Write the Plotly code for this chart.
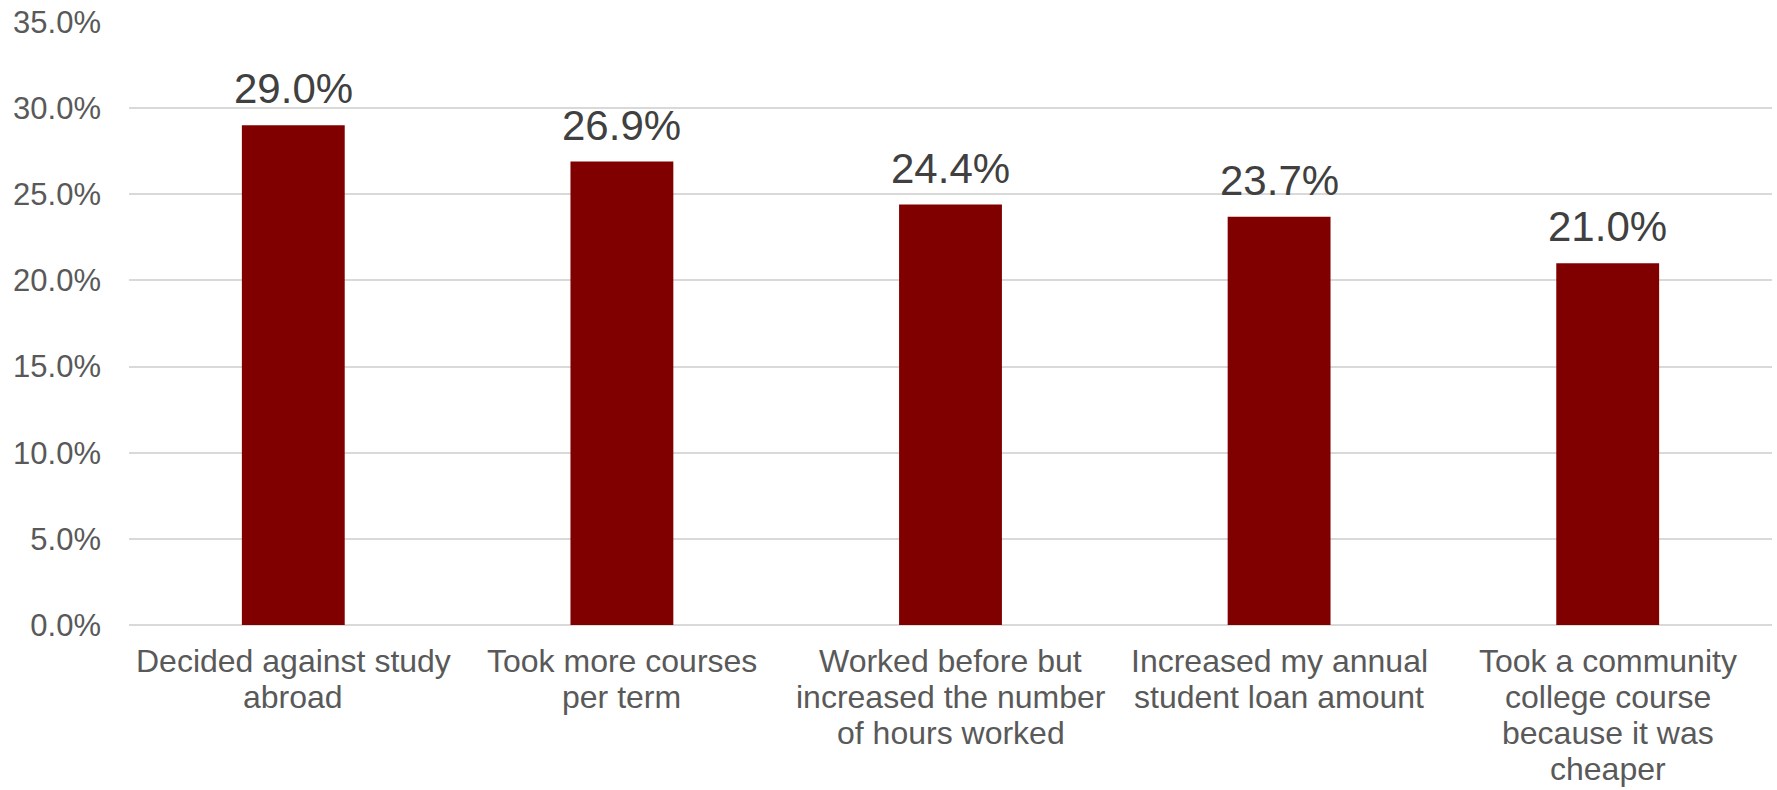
import plotly.graph_objects as go

# Survey responses: share of students reporting each action
categories = [
    "Decided against study<br>abroad",
    "Took more courses<br>per term",
    "Worked before but<br>increased the number<br>of hours worked",
    "Increased my annual<br>student loan amount",
    "Took a community<br>college course<br>because it was<br>cheaper",
]
values = [29.0, 26.9, 24.4, 23.7, 21.0]
y_ticks = [0, 5, 10, 15, 20, 25, 30, 35]

FONT = "Liberation Sans, Arial, sans-serif"
BAR_COLOR = "#800000"
GRID_COLOR = "#d9d9d9"

fig = go.Figure(
    go.Bar(
        x=list(range(len(categories))),
        y=values,
        marker=dict(color=BAR_COLOR, line=dict(width=0)),
        hoverinfo="skip",
    )
)

annotations = []
# value labels above each bar
for i, v in enumerate(values):
    annotations.append(dict(
        x=i, y=v, xref="x", yref="y",
        text=f"{v:.1f}%", showarrow=False,
        yanchor="bottom", yshift=11,
        font=dict(family=FONT, size=42, color="#404040"),
    ))
# wrapped category labels, one annotation per line for tighter leading
LINE_STEP = 36
for i, cat in enumerate(categories):
    for j, line in enumerate(cat.split("<br>")):
        annotations.append(dict(
            x=i, y=0, xref="x", yref="y",
            text=line, showarrow=False,
            yanchor="top", yshift=-16 - j * LINE_STEP,
            font=dict(family=FONT, size=32, color="#595959"),
        ))

fig.update_layout(
    width=1777, height=790,
    margin=dict(l=129, r=5, t=19, b=165),
    paper_bgcolor="white", plot_bgcolor="white",
    bargap=0.687,
    showlegend=False,
    annotations=annotations,
    font=dict(family=FONT, color="#595959"),
    xaxis=dict(
        range=[-0.5, len(categories) - 0.5],
        showticklabels=False, showgrid=False, zeroline=False,
        showline=False, ticks="",
    ),
    yaxis=dict(
        range=[0, 35], tickvals=y_ticks,
        ticktext=[f"{t:.1f}%" for t in y_ticks],
        showgrid=True, gridcolor=GRID_COLOR, gridwidth=1.5,
        zeroline=True, zerolinecolor=GRID_COLOR, zerolinewidth=1.5,
        showline=False, ticks="", ticklabelstandoff=27,
        tickfont=dict(family=FONT, size=31, color="#595959"),
    ),
)

fig.write_html("out.html")
